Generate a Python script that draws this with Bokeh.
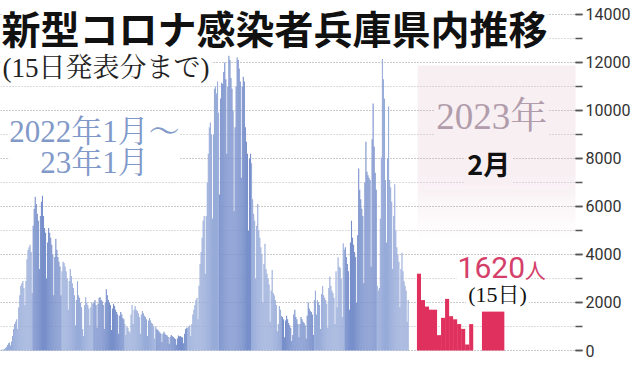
import numpy as np
import pandas as pd
from bokeh.plotting import figure
from bokeh.models import Range1d, Label, SingleIntervalTicker, ColumnDataSource
from bokeh.embed import file_html
from bokeh.resources import INLINE

# ---------------- data (daily new cases, Hyogo) ----------------
jan22 = [30, 40, 25, 60, 100, 150, 230, 300, 330, 210, 380, 600, 900, 1100, 1200, 1300,
         900, 1800, 2300, 2700, 2800, 2900, 2600, 1900, 2900, 3800, 4200, 4300, 4400, 4100, 2400]
feb22 = [5200, 5900, 6400, 6100, 5700, 5400, 3400, 5600, 6200, 6450, 5600, 5100, 4900, 3000,
         4500, 5100, 4900, 4700, 4400, 4000, 2300, 3900, 4650, 4200, 3900, 3700, 3500, 2300]
mar22 = [3300, 3700, 3650, 3500, 3300, 3000, 1700, 2900, 3400, 3100, 2800, 2600, 2300, 1050,
         2100, 2880, 2300, 2200, 2000, 1800, 900, 600, 1900, 2220, 2000, 1900, 1750, 1050,
         1800, 2000, 1950]
apr22 = [2000, 2100, 1900, 950, 1950, 2200, 2220, 2100, 2050, 1900, 900, 2000, 2550, 2300,
         2100, 2000, 1900, 850, 1750, 1950, 1850, 1700, 1600, 1500, 700, 1450, 1600, 1500,
         1350, 1300]
may22 = [1100, 650, 1000, 950, 800, 750, 1500, 1900, 1100, 1700, 1850, 1700, 1650, 1550,
         1400, 700, 1500, 1650, 1550, 1450, 1400, 1300, 600, 1250, 1350, 1250, 1150, 1100,
         1000, 500, 1000]
jun22 = [900, 850, 800, 750, 700, 350, 700, 780, 700, 650, 620, 560, 280, 560, 650, 600,
         560, 520, 480, 240, 500, 620, 580, 600, 560, 540, 300, 700, 900, 950]
jul22 = [950, 1000, 1050, 600, 1100, 1500, 1700, 1900, 2100, 2200, 1300, 2700, 3600, 4100,
         4700, 5400, 5600, 3200, 5600, 7000, 8200, 9300, 9500, 9000, 5500, 9000, 10900,
         11000, 10700, 11200, 9900]
aug22 = [6500, 10500, 11150, 11100, 11600, 12000, 11300, 8200, 11000, 12280, 12100, 11350,
         10900, 10000, 5800, 9300, 11000, 12200, 12100, 11750, 11200, 7200, 11000, 11400,
         11200, 9300, 8700, 8200, 5000, 8000, 8200]
sep22 = [7800, 6300, 5700, 5400, 3000, 5200, 6100, 5000, 4700, 4300, 4000, 2000, 3600, 4450,
         3400, 3200, 3000, 2750, 1200, 2500, 3350, 2400, 2300, 2100, 1900, 800, 1100, 1850,
         1700, 1450]
oct22 = [1400, 1300, 550, 1250, 1450, 1300, 1150, 1050, 950, 400, 650, 1500, 1700, 1400,
         1300, 1100, 550, 1100, 1400, 1300, 1200, 1150, 1050, 500, 1450, 2000, 1750, 1650,
         1600, 1500, 650]
nov22 = [2100, 2490, 1500, 2100, 2000, 1900, 900, 2350, 2690, 2300, 2200, 2100, 1950, 950,
         2600, 3080, 2700, 2500, 2400, 2200, 1100, 3300, 1800, 3880, 3500, 3450, 3000, 1400,
         4470, 4200]
dec22 = [4300, 3900, 3600, 3300, 1700, 4500, 5400, 4700, 4400, 4100, 3900, 2000, 4800, 7580,
         6700, 6300, 5900, 5600, 2800, 7000, 8700, 7450, 7300, 7200, 7100, 3500, 8800, 10290,
         8500, 7400, 6700]
jan23 = [2700, 2500, 2600, 5500, 8040, 12140, 11300, 10500, 7100, 4500, 8000, 10160, 7100,
         6800, 6200, 3400, 5600, 6920, 5000, 4300, 4000, 3700, 1800, 3400, 4070, 3300, 2880,
         2700, 2500, 1200, 2100]
feb23 = [3200, 2100, 1830, 1700, 1700, 640, 1360, 2150, 1430, 1300, 1100, 900, 250, 1100,
         1620]

y_ticks_step = 2000

# ---------------- styling / layout ----------------
LIGHT = "#97abd9"
DARK = "#778fcb"
RED = "#e0305d"
PINK = "#f8eff3"
GRID = "#b8b8b8"

PX_PER_DAY = 1.057          # reference pixels per day (2022-23 section)
def rx(px):                 # reference x pixel -> day units
    return (px - 0.24) / PX_PER_DAY
def ry(py):                 # reference y pixel -> value units
    return (365.5 - py) / 0.02507

daily = jan22 + feb22 + mar22 + apr22 + may22 + jun22 + jul22 + aug22 + sep22 + oct22 + nov22 + dec22 + jan23
dates = pd.date_range("2022-01-01", periods=len(daily), freq="D")
month_idx = (dates.year - 2022) * 12 + dates.month - 1
colors = np.where(month_idx % 2 == 0, LIGHT, DARK)
day = np.arange(len(daily))

blue_src = ColumnDataSource(dict(x=day + 0.5, top=daily, color=colors))

# Feb 2023: expanded day width, latest day drawn wide
feb_start = rx(427.3)
feb_w = 3.9
n = len(feb23)
lefts = [feb_start + feb_w * j for j in range(n - 1)] + [rx(494)]
rights = [feb_start + feb_w * (j + 1) + 0.05 for j in range(n - 1)] + [rx(517)]
red_src = ColumnDataSource(dict(left=lefts, right=rights, top=feb23, bottom=[0] * n))

p = figure(frame_width=575, frame_height=361, output_backend="svg", toolbar_location=None,
           x_range=Range1d(rx(0), rx(590)), y_range=Range1d(-458, 14579),
           x_axis_location=None, y_axis_location="right",
           min_border_left=0, min_border_right=0, min_border_top=0, min_border_bottom=0)
p.outline_line_color = None
p.background_fill_color = "white"
p.border_fill_color = "white"

# axis
ax = p.yaxis[0]
ax.ticker = SingleIntervalTicker(interval=y_ticks_step, num_minor_ticks=2)
ax.axis_line_color = None
ax.major_tick_out = 7
ax.major_tick_in = 0
ax.minor_tick_out = 7
ax.minor_tick_in = 0
ax.major_tick_line_color = "#555555"
ax.minor_tick_line_color = "#555555"
ax.major_tick_line_width = 1.5
ax.minor_tick_line_width = 1.5
ax.major_label_standoff = 3
ax.major_label_text_font = "Roboto"
ax.major_label_text_font_size = "16px"
ax.major_label_text_color = "#333333"

# grid
p.xgrid.visible = False
p.ygrid.grid_line_color = GRID
p.ygrid.grid_line_dash = "1 2"
p.ygrid.minor_grid_line_color = GRID
p.ygrid.minor_grid_line_dash = "1 2"

# pink background box for Feb 2023 (solid top, fading out below)
p.quad(left=[rx(428)], right=[rx(592)], top=[ry(68)], bottom=[ry(185)],
       fill_color=PINK, line_color=None, level="image")
fade_edges = np.linspace(185, 250, 14)
p.quad(left=rx(428), right=rx(592), top=ry(fade_edges[:-1]), bottom=ry(fade_edges[1:]),
       fill_color=PINK, fill_alpha=np.linspace(0.95, 0.05, 13), line_color=None, level="image")

# bars
p.vbar(x="x", top="top", bottom=0, width=1.06, fill_color="color", line_color=None,
       source=blue_src)
p.quad(left="left", right="right", top="top", bottom="bottom", fill_color=RED,
       line_color=None, source=red_src)

SERIF = "'Liberation Serif', 'Noto Serif CJK JP', 'Noto Sans CJK JP', serif"
CJK = "'Noto Sans CJK JP', sans-serif"

def lab(x, y, text, font, size, color, align="left", style="normal", bg="white", pad=2,
        lh=1.2):
    p.add_layout(Label(x=x, y=y, text=text, text_font=font, text_font_size=size,
                       text_color=color, text_align=align, text_baseline="middle",
                       text_font_style=style, background_fill_color=bg, padding=pad,
                       text_line_height=lh))

lab(rx(1), ry(28), "新型コロナ感染者兵庫県内推移", CJK, "39px", "#111111", style="bold", pad=0)
lab(rx(0), ry(71), "(15日発表分まで)", SERIF, "27px", "#222222")
lab(rx(184), ry(153), "2022年1月〜\n23年1月\u3000", SERIF, "31px", "#8199c9",
    align="right", pad=0, lh=0.9)
lab(rx(445), ry(121), "2023年", SERIF, "37px", "#b19cab", bg=PINK)
lab(rx(501), ry(170), "2月", CJK, "27px", "#111111", align="center", style="bold", bg=PINK)
lab(rx(468), ry(279), "1620", "Roboto", "30px", "#d4406a", pad=1)
lab(rx(538), ry(280), "人", CJK, "21px", "#d4406a", bg=None, pad=0)
lab(rx(510), ry(307), "(15日)", SERIF, "22px", "#111111", align="center")

open("out.html", "w").write(file_html(p, INLINE, "chart"))
